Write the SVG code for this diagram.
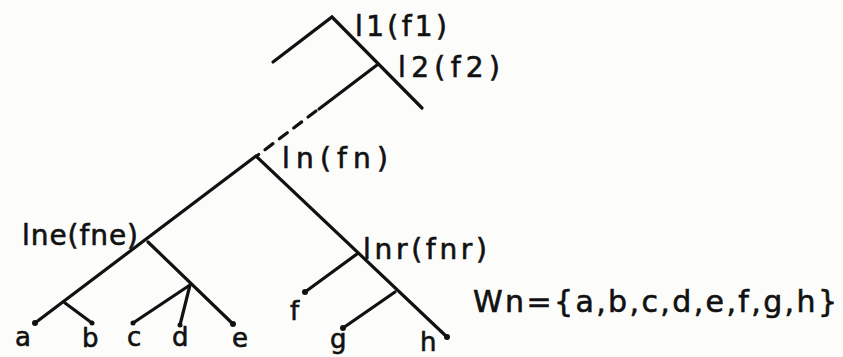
<svg xmlns="http://www.w3.org/2000/svg" width="843" height="357" viewBox="0 0 843 357">
<style>
.e{stroke:#111;stroke-width:3.2;fill:none;stroke-linecap:round}
.d{stroke-dasharray:10 8}
.t{font-family:"DejaVu Sans","Liberation Sans",sans-serif;fill:#111;stroke:#111;stroke-width:0.6}
.dot{fill:#111}
</style>
<rect width="843" height="357" fill="#fcfcfa"/>
<g id="connectors">
<path class="e" d="M273,62 L332,17 L422,108"/>
<path class="e" d="M377,65 L319,109"/>
<path class="e d" d="M316,111 L258,155"/>
<path class="e" d="M35,323 L256,156 L447,337"/>
<path class="e" d="M148,242 L233,324"/>
<path class="e" d="M65,303 L92,323"/>
<path class="e" d="M190,285 L133,323"/>
<path class="e" d="M190,285 L180,325"/>
<path class="e" d="M357,254 L305,292"/>
<path class="e" d="M395,292 L343,328"/>
</g>
<g id="leaves">
<circle class="dot" cx="35" cy="323" r="3"/>
<circle class="dot" cx="92" cy="323" r="2.5"/>
<circle class="dot" cx="133" cy="323" r="2.5"/>
<circle class="dot" cx="180" cy="325" r="2.5"/>
<circle class="dot" cx="233" cy="324" r="3"/>
<circle class="dot" cx="305" cy="292" r="3"/>
<circle class="dot" cx="343" cy="328" r="3"/>
<circle class="dot" cx="447" cy="337" r="3"/>
</g>
<g id="node-l1"><text class="t" x="355" y="36" font-size="28" textLength="92" lengthAdjust="spacing">l1(f1)</text></g>
<g id="node-l2"><text class="t" x="398" y="77" font-size="28" textLength="102" lengthAdjust="spacing">l2(f2)</text></g>
<g id="node-ln"><text class="t" x="282" y="168" font-size="28" textLength="106" lengthAdjust="spacing">ln(fn)</text></g>
<g id="node-lne"><text class="t" x="22" y="245" font-size="28" textLength="116" lengthAdjust="spacing">lne(fne)</text></g>
<g id="node-lnr"><text class="t" x="363" y="259" font-size="28" textLength="124" lengthAdjust="spacing">lnr(fnr)</text></g>
<g id="labels">
<text class="t" x="15" y="346" font-size="26">a</text>
<text class="t" x="82" y="347" font-size="26">b</text>
<text class="t" x="127" y="346" font-size="26">c</text>
<text class="t" x="172" y="346" font-size="26">d</text>
<text class="t" x="232" y="347" font-size="26">e</text>
<text class="t" x="290" y="320" font-size="26">f</text>
<text class="t" x="330" y="348" font-size="26">g</text>
<text class="t" x="420" y="351" font-size="26">h</text>
<text class="t" x="473" y="312" font-size="30" textLength="364" lengthAdjust="spacing">Wn={a,b,c,d,e,f,g,h}</text>
</g>
</svg>
